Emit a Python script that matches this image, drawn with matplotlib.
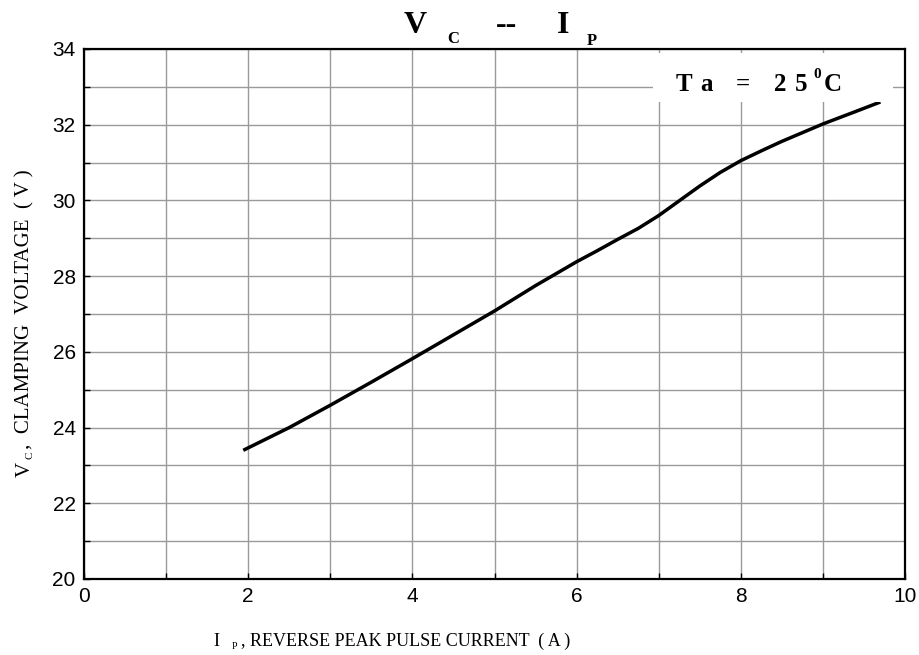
import numpy as np
import matplotlib.pyplot as plt

# curve
ip = [1.94, 2.5, 3.0, 3.5, 4.0, 4.5, 5.0, 5.5, 6.0, 6.25, 6.5, 6.75, 7.0, 7.25, 7.5, 7.75, 8.0, 8.25, 8.5, 9.0, 9.4, 9.7]
vc = [23.40, 24.00, 24.59, 25.20, 25.82, 26.45, 27.08, 27.75, 28.38, 28.67, 28.97, 29.26, 29.60, 29.99, 30.38, 30.74, 31.05, 31.31, 31.56, 32.02, 32.35, 32.60]

xticks = [0, 2, 4, 6, 8, 10]
yticks = [20, 22, 24, 26, 28, 30, 32, 34]

W, H = 920, 655
fig = plt.figure(figsize=(W / 100, H / 100), dpi=100)
ax = fig.add_axes([84 / W, 1 - 579 / H, (905 - 84) / W, (579 - 49) / H])

serif = 'Liberation Serif'
sans = 'Liberation Sans'

ax.plot(ip, vc, color='black', lw=2.5, solid_capstyle='butt', solid_joinstyle='round')

ax.set_xlim(0, 10)
ax.set_ylim(20, 34)
ax.set_xticks(xticks)
ax.set_yticks(yticks)
ax.set_xticks(np.arange(0, 11, 1), minor=True)
ax.set_yticks(np.arange(20, 35, 1), minor=True)
ax.grid(True, which='both', color='#9a9a9a', lw=1.0)
ax.tick_params(which='both', direction='in', length=4, width=1, color='black',
               labelsize=15, pad=6)
for lab in ax.get_xticklabels() + ax.get_yticklabels():
    lab.set_fontfamily(sans)
for s in ax.spines.values():
    s.set_linewidth(1.6)

# white box with Ta label
ax.add_patch(plt.Rectangle(((653 - 84) / 82.1, 20 + (579 - 102) / 37.86),
                           (893 - 653) / 82.1, 49 / 37.86,
                           facecolor='white', edgecolor='none', zorder=2.5))


def px(x, y):
    return x / W, 1 - y / H


ta = dict(fontsize=18, fontweight='bold', family=serif, ha='left', va='baseline')
for xp, ch in [(676, 'T'), (700, 'a'), (736, '='), (774, '2'), (795, '5'), (824, 'C')]:
    fig.text(*px(xp, 91), ch, **ta)
fig.text(*px(813, 78), '0', fontsize=11, fontweight='bold', family=serif,
         ha='left', va='baseline')

# title
fig.text(*px(404, 33), 'V', fontsize=23, fontweight='bold', family=serif, ha='left', va='baseline')
fig.text(*px(447, 43), 'C', fontsize=12, fontweight='bold', family=serif, ha='left', va='baseline')
fig.text(*px(496, 33), '--', fontsize=23, fontweight='bold', family=serif, ha='left', va='baseline')
fig.text(*px(557, 33), 'I', fontsize=23, fontweight='bold', family=serif, ha='left', va='baseline')
fig.text(*px(587, 45), 'P', fontsize=12, fontweight='bold', family=serif, ha='left', va='baseline')

# axis labels
fig.text(*px(213, 646), 'I', fontsize=13, family=serif, ha='left', va='baseline')
fig.text(*px(232, 649), 'P', fontsize=7, family=serif, ha='left', va='baseline')
fig.text(*px(241, 646), ', REVERSE PEAK PULSE CURRENT  ( A )', fontsize=13,
         family=serif, ha='left', va='baseline')

fig.text(*px(25, 477), 'V', fontsize=15, family=serif, rotation=90, ha='center', va='bottom')
fig.text(*px(30, 459), 'C', fontsize=8, family=serif, rotation=90, ha='center', va='bottom')
fig.text(*px(25, 449), ',  CLAMPING  VOLTAGE  ( V )', fontsize=15, family=serif,
         rotation=90, ha='center', va='bottom')

fig.savefig('out.png', dpi=100)
